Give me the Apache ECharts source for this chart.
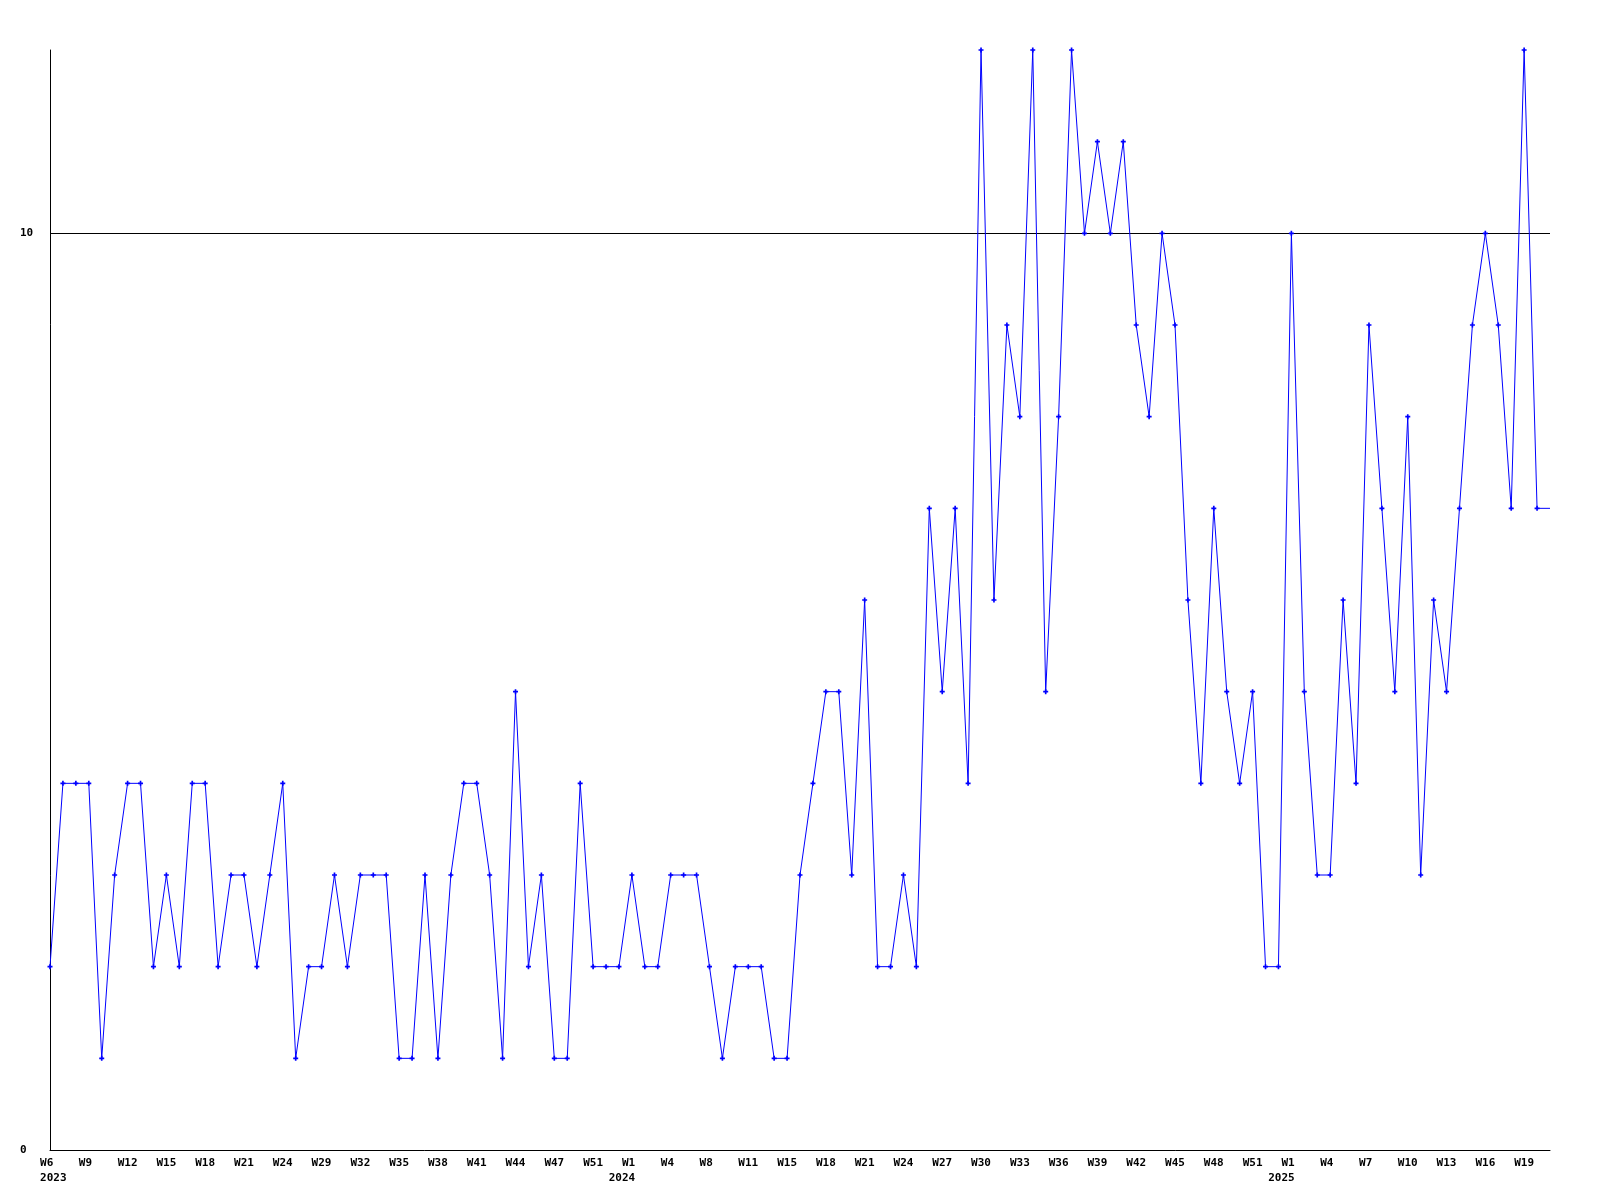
<!DOCTYPE html>
<html>
<head>
<meta charset="utf-8">
<script src="https://cdn.jsdelivr.net/npm/echarts@6/dist/echarts.min.js"></script>
<style>
html,body{margin:0;padding:0;background:#fff;}
#chart{width:1600px;height:1200px;}
</style>
</head>
<body>
<div id="chart"></div>
<script>
// Weekly values, one per point (left to right)
const values = [
  2,4,4,4,1,3,4,4,2,3,2,4,4,2,3,3,2,3,4,1,
  2,2,3,2,3,3,3,1,1,3,1,3,4,4,3,1,5,2,3,1,
  1,4,2,2,2,3,2,2,3,3,3,2,1,2,2,2,1,1,3,4,
  5,5,3,6,2,2,3,2,7,5,7,4,12,6,9,8,12,5,8,12,
  10,11,10,11,9,8,10,9,6,4,7,5,4,5,2,2,10,5,3,3,
  6,4,9,7,5,8,3,6,5,7,9,10,9,7,12,7,7
];
// Week tick labels shown under every third point
const tickLabels = [
  'W6','W9','W12','W15','W18','W21','W24','W29','W32','W35','W38','W41','W44','W47','W51',
  'W1','W4','W8','W11','W15','W18','W21','W24','W27','W30','W33','W36','W39','W42','W45','W48','W51',
  'W1','W4','W7','W10','W13','W16','W19'
];
// Year shown under the first tick of each year (by tick number)
const yearTicks = [0, 15, 32];
const yearLabels = ['2023', '2024', '2025'];
const labelStep = 3;
const yMin = 0, yMax = 12, yInterval = 10;

const categories = values.map((_, i) => {
  if (i % labelStep !== 0) return '';
  const t = i / labelStep;
  if (t >= tickLabels.length) return '';
  let s = tickLabels[t];
  if (s.length === 2) s = s + ' ';
  const y = yearTicks.indexOf(t);
  if (y >= 0) s += '\n' + (t === 0 ? ' ' + yearLabels[y] : yearLabels[y] + '   ');
  return s;
});

const chart = echarts.init(document.getElementById('chart'), null, {renderer: 'canvas'});
const font = {fontFamily: 'DejaVu Sans Mono', fontSize: 11, fontWeight: 'bold', color: '#000'};
const plusPath = 'path://M2,0H4V2H6V4H4V6H2V4H0V2H2Z';
chart.setOption({
  animation: false,
  backgroundColor: '#ffffff',
  grid: {left: 50, right: 50, top: 50, bottom: 50, containLabel: false},
  xAxis: {
    type: 'category',
    data: categories,
    boundaryGap: false,
    axisLine: {show: true, lineStyle: {color: '#000', width: 1}},
    axisTick: {show: false},
    axisLabel: Object.assign({interval: labelStep - 1, margin: 6, lineHeight: 15, verticalAlign: 'top'}, font),
    splitLine: {show: false}
  },
  yAxis: {
    type: 'value',
    min: yMin, max: yMax, interval: yInterval,
    axisLine: {show: true, lineStyle: {color: '#000', width: 1}},
    axisTick: {show: false},
    axisLabel: Object.assign({align: 'left', margin: 30, showMaxLabel: false}, font),
    splitLine: {show: true, showMinLine: false, showMaxLine: false, lineStyle: {color: '#000', width: 1}}
  },
  series: [{
    type: 'line',
    data: values,
    symbol: plusPath,
    symbolSize: (v, p) => p.dataIndex === values.length - 1 ? 0 : 5,
    showAllSymbol: true,
    lineStyle: {color: '#0000ff', width: 1},
    itemStyle: {color: '#0000ff'},
    clip: true
  }]
});
</script>
</body>
</html>
